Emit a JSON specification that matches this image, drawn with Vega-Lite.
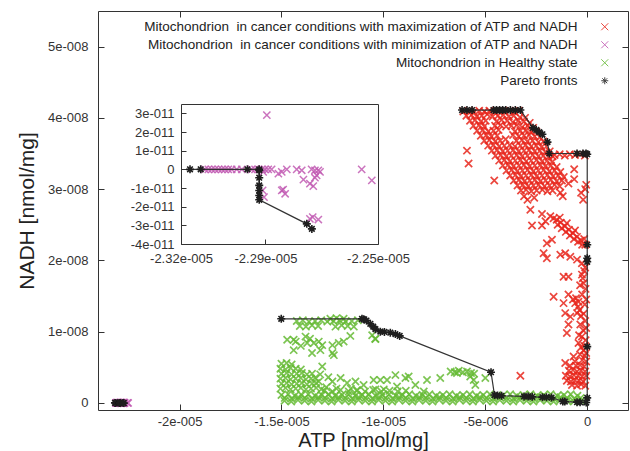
{
  "$schema": "https://vega.github.io/schema/vega-lite/v6.json",
  "width": 530,
  "height": 399,
  "autosize": {"type": "none"},
  "padding": {"left": 98, "top": 11, "right": 2, "bottom": 41},
  "config": {
    "view": {"stroke": "#333", "strokeWidth": 1},
    "font": "Liberation Sans",
    "axis": {
      "grid": false,
      "labelFont": "Liberation Sans",
      "labelFontSize": 13,
      "labelColor": "#333",
      "domainColor": "#333",
      "tickColor": "#333",
      "labelFlush": false,
      "labelOverlap": false,
      "titleFont": "Liberation Sans",
      "titleFontWeight": "normal",
      "titleColor": "#222"
    },
    "legend": {
      "labelFont": "Liberation Sans",
      "labelFontSize": 13.5,
      "labelColor": "#222",
      "labelLimit": 600,
      "symbolSize": 49,
      "symbolStrokeWidth": 1,
      "rowPadding": 3,
      "padding": 0
    }
  },
  "data": {
    "values": "a,n,s,f\n-6.08e-6,4.09e-8,r,\n-5.8e-6,4.1e-8,r,\n-5.55e-6,4.08e-8,r,\n-5.3e-6,4.1e-8,r,\n-5.05e-6,4.09e-8,r,\n-4.8e-6,4.1e-8,r,\n-4.55e-6,4.08e-8,r,\n-4.3e-6,4.1e-8,r,\n-4.05e-6,4.09e-8,r,\n-3.8e-6,4.1e-8,r,\n-3.55e-6,4.08e-8,r,\n-3.35e-6,4.1e-8,r,\n-5.93e-6,4.03e-8,r,\n-5.68e-6,4.04e-8,r,\n-5.42e-6,4.02e-8,r,\n-5.17e-6,4.03e-8,r,\n-4.9e-6,4.05e-8,r,\n-4.64e-6,4.02e-8,r,\n-4.38e-6,4.03e-8,r,\n-4.12e-6,4.04e-8,r,\n-3.85e-6,4.02e-8,r,\n-3.6e-6,4.03e-8,r,\n-3.3e-6,4.01e-8,r,\n-3.05e-6,4e-8,r,\n-5.75e-6,3.96e-8,r,\n-5.5e-6,3.97e-8,r,\n-5.22e-6,3.95e-8,r,\n-4.98e-6,3.96e-8,r,\n-4.45e-6,3.95e-8,r,\n-4.2e-6,3.97e-8,r,\n-3.92e-6,3.96e-8,r,\n-3.65e-6,3.94e-8,r,\n-3.38e-6,3.96e-8,r,\n-3.1e-6,3.95e-8,r,\n-2.82e-6,3.93e-8,r,\n-5.58e-6,3.89e-8,r,\n-5.3e-6,3.9e-8,r,\n-5.05e-6,3.88e-8,r,\n-4.52e-6,3.89e-8,r,\n-4.25e-6,3.9e-8,r,\n-3.98e-6,3.88e-8,r,\n-3.72e-6,3.89e-8,r,\n-3.45e-6,3.9e-8,r,\n-3.2e-6,3.87e-8,r,\n-2.92e-6,3.89e-8,r,\n-2.65e-6,3.86e-8,r,\n-5.4e-6,3.82e-8,r,\n-5.12e-6,3.83e-8,r,\n-4.86e-6,3.81e-8,r,\n-4.6e-6,3.82e-8,r,\n-4.35e-6,3.83e-8,r,\n-3.55e-6,3.81e-8,r,\n-3.28e-6,3.82e-8,r,\n-3e-6,3.83e-8,r,\n-2.75e-6,3.8e-8,r,\n-2.5e-6,3.81e-8,r,\n-5.22e-6,3.75e-8,r,\n-4.95e-6,3.76e-8,r,\n-4.7e-6,3.74e-8,r,\n-4.42e-6,3.75e-8,r,\n-3.64e-6,3.76e-8,r,\n-3.36e-6,3.74e-8,r,\n-3.1e-6,3.75e-8,r,\n-2.85e-6,3.76e-8,r,\n-2.58e-6,3.74e-8,r,\n-2.33e-6,3.73e-8,r,\n-5.05e-6,3.68e-8,r,\n-4.8e-6,3.69e-8,r,\n-4.52e-6,3.67e-8,r,\n-4.27e-6,3.68e-8,r,\n-4e-6,3.7e-8,r,\n-3.47e-6,3.68e-8,r,\n-3.2e-6,3.69e-8,r,\n-2.94e-6,3.67e-8,r,\n-2.68e-6,3.68e-8,r,\n-2.4e-6,3.66e-8,r,\n-2.15e-6,3.67e-8,r,\n-4.86e-6,3.61e-8,r,\n-4.6e-6,3.62e-8,r,\n-4.33e-6,3.6e-8,r,\n-4.07e-6,3.61e-8,r,\n-3.8e-6,3.62e-8,r,\n-3.55e-6,3.6e-8,r,\n-3.28e-6,3.61e-8,r,\n-3.02e-6,3.62e-8,r,\n-2.75e-6,3.6e-8,r,\n-2.5e-6,3.61e-8,r,\n-2.24e-6,3.59e-8,r,\n-2e-6,3.6e-8,r,\n-4.68e-6,3.54e-8,r,\n-4.42e-6,3.55e-8,r,\n-4.15e-6,3.53e-8,r,\n-3.9e-6,3.54e-8,r,\n-3.63e-6,3.55e-8,r,\n-3.37e-6,3.53e-8,r,\n-3.1e-6,3.54e-8,r,\n-2.85e-6,3.55e-8,r,\n-2.58e-6,3.53e-8,r,\n-2.32e-6,3.54e-8,r,\n-2.06e-6,3.52e-8,r,\n-1.84e-6,3.53e-8,r,\n-4.5e-6,3.47e-8,r,\n-4.24e-6,3.48e-8,r,\n-3.98e-6,3.46e-8,r,\n-3.72e-6,3.47e-8,r,\n-3.45e-6,3.48e-8,r,\n-3.2e-6,3.46e-8,r,\n-2.93e-6,3.47e-8,r,\n-2.67e-6,3.48e-8,r,\n-2.4e-6,3.46e-8,r,\n-2.15e-6,3.47e-8,r,\n-1.9e-6,3.45e-8,r,\n-1.7e-6,3.46e-8,r,\n-4.32e-6,3.4e-8,r,\n-4.06e-6,3.41e-8,r,\n-3.8e-6,3.39e-8,r,\n-3.53e-6,3.4e-8,r,\n-3.27e-6,3.41e-8,r,\n-3e-6,3.39e-8,r,\n-2.75e-6,3.4e-8,r,\n-2.48e-6,3.41e-8,r,\n-2.22e-6,3.39e-8,r,\n-1.96e-6,3.4e-8,r,\n-1.72e-6,3.38e-8,r,\n-4.14e-6,3.33e-8,r,\n-3.88e-6,3.34e-8,r,\n-3.62e-6,3.32e-8,r,\n-3.35e-6,3.33e-8,r,\n-3.1e-6,3.34e-8,r,\n-2.83e-6,3.32e-8,r,\n-2.57e-6,3.33e-8,r,\n-2.3e-6,3.34e-8,r,\n-2.05e-6,3.32e-8,r,\n-1.78e-6,3.33e-8,r,\n-1.5e-6,3.31e-8,r,\n-3.96e-6,3.26e-8,r,\n-3.7e-6,3.27e-8,r,\n-3.44e-6,3.25e-8,r,\n-3.18e-6,3.26e-8,r,\n-2.92e-6,3.27e-8,r,\n-2.65e-6,3.25e-8,r,\n-2.4e-6,3.26e-8,r,\n-2.13e-6,3.27e-8,r,\n-1.86e-6,3.25e-8,r,\n-1.6e-6,3.26e-8,r,\n-1.32e-6,3.24e-8,r,\n-3.78e-6,3.19e-8,r,\n-3.52e-6,3.2e-8,r,\n-3.26e-6,3.18e-8,r,\n-3e-6,3.19e-8,r,\n-2.74e-6,3.2e-8,r,\n-2.48e-6,3.18e-8,r,\n-2.22e-6,3.19e-8,r,\n-1.95e-6,3.2e-8,r,\n-1.68e-6,3.18e-8,r,\n-1.42e-6,3.19e-8,r,\n-1.15e-6,3.17e-8,r,\n-3.6e-6,3.12e-8,r,\n-3.34e-6,3.13e-8,r,\n-3.08e-6,3.11e-8,r,\n-2.82e-6,3.12e-8,r,\n-2.56e-6,3.13e-8,r,\n-2.3e-6,3.11e-8,r,\n-2.04e-6,3.12e-8,r,\n-1.78e-6,3.13e-8,r,\n-1.5e-6,3.11e-8,r,\n-1.24e-6,3.12e-8,r,\n-3.42e-6,3.05e-8,r,\n-3.16e-6,3.06e-8,r,\n-2.9e-6,3.04e-8,r,\n-2.64e-6,3.05e-8,r,\n-2.38e-6,3.06e-8,r,\n-2.1e-6,3.04e-8,r,\n-1.85e-6,3.05e-8,r,\n-1.6e-6,3.06e-8,r,\n-1.35e-6,3.04e-8,r,\n-3.25e-6,2.98e-8,r,\n-3e-6,2.99e-8,r,\n-2.74e-6,2.97e-8,r,\n-2.48e-6,2.98e-8,r,\n-2.2e-6,2.99e-8,r,\n-1.95e-6,2.97e-8,r,\n-1.7e-6,2.98e-8,r,\n-1.6e-6,3.48e-8,r,\n-1.35e-6,3.49e-8,r,\n-1.1e-6,3.47e-8,r,\n-8.5e-7,3.49e-8,r,\n-6e-7,3.48e-8,r,\n-3.5e-7,3.49e-8,r,\n-1.2e-7,3.47e-8,r,\n-5.9e-6,3.54e-8,r,\n-5.82e-6,3.36e-8,r,\n-4.56e-6,3.12e-8,r,\n-6.4e-7,3.28e-8,r,\n-6.4e-7,3.14e-8,r,\n-5e-8,3.06e-8,r,\n-9.2e-7,3.08e-8,r,\n-1.32e-6,2.95e-8,r,\n-2.93e-6,2.85e-8,r,\n-2.79e-6,2.71e-8,r,\n-2.71e-6,2.49e-8,r,\n-2.22e-6,2.65e-8,r,\n-1.81e-6,2.62e-8,r,\n-2.22e-6,2.49e-8,r,\n-2.05e-6,2.55e-8,r,\n-1.98e-6,2.24e-8,r,\n-1.73e-6,2.29e-8,r,\n-2.14e-6,2.1e-8,r,\n-1.32e-6,2.08e-8,r,\n-1.08e-6,2.1e-8,r,\n-3.1e-6,2.9e-8,r,\n-2.6e-6,2.88e-8,r,\n-1.2e-6,2.9e-8,r,\n-1e-7,3e-8,r,\n-3e-7,2.95e-8,r,\n-2e-7,2.85e-8,r,\n-1.65e-6,2.59e-8,r,\n-1.5e-6,2.57e-8,r,\n-1.45e-6,2.5e-8,r,\n-1.3e-6,2.53e-8,r,\n-1.25e-6,2.45e-8,r,\n-1.1e-6,2.48e-8,r,\n-1.05e-6,2.4e-8,r,\n-9e-7,2.43e-8,r,\n-8.5e-7,2.35e-8,r,\n-7e-7,2.38e-8,r,\n-6.5e-7,2.3e-8,r,\n-5e-7,2.33e-8,r,\n-4.5e-7,2.26e-8,r,\n-3e-7,2.28e-8,r,\n-2.5e-7,2.22e-8,r,\n-1e-7,2.22e-8,r,\n-1.5e-7,2.3e-8,r,\n-1.35e-6,2.6e-8,r,\n-1e-6,2.52e-8,r,\n-6e-7,2.42e-8,r,\n-1.98e-6,2.03e-8,r,\n-8.3e-7,2.05e-8,r,\n-5e-7,2.01e-8,r,\n-2.6e-7,1.96e-8,r,\n-1.16e-6,1.77e-8,r,\n-9.2e-7,1.77e-8,r,\n-2.6e-7,1.8e-8,r,\n-1.8e-7,1.68e-8,r,\n-1.65e-6,1.49e-8,r,\n-9.2e-7,1.52e-8,r,\n-1.16e-6,1.4e-8,r,\n-5.9e-7,1.4e-8,r,\n-4.3e-7,1.42e-8,r,\n-1.08e-6,1.26e-8,r,\n-8.3e-7,1.21e-8,r,\n-5e-7,1.26e-8,r,\n-9.2e-7,1.1e-8,r,\n-1e-6,9.8e-9,r,\n-3.4e-7,1.1e-8,r,\n-2.6e-7,9.3e-9,r,\n-4.3e-7,8.4e-9,r,\n-1.8e-7,7.4e-9,r,\n-6.7e-7,6.5e-9,r,\n-1.08e-6,5.6e-9,r,\n-3.28e-6,3.8e-9,r,\n-7e-7,1.45e-8,r,\n-5.5e-7,1.47e-8,r,\n-4.5e-7,1.35e-8,r,\n-1e-7,1.9e-8,r,\n-2.2e-7,1.75e-8,r,\n-8e-8,1.6e-8,r,\n-2.5e-7,1.52e-8,r,\n-1.2e-7,1.38e-8,r,\n-3e-7,1.22e-8,r,\n-1e-7,1.15e-8,r,\n-2e-7,1.02e-8,r,\n-8e-8,8.8e-9,r,\n-3e-7,7.8e-9,r,\n-1.2e-7,6.6e-9,r,\n-1.5e-7,1.85e-8,r,\n-3.5e-7,1.65e-8,r,\n-5e-8,1.45e-8,r,\n-3.8e-7,1.3e-8,r,\n-1.8e-7,1.25e-8,r,\n-5e-8,1.05e-8,r,\n-4e-7,9.5e-9,r,\n-1.5e-7,8e-9,r,\n-3.5e-7,6.8e-9,r,\n-5e-8,7e-9,r,\n-6e-7,5.8e-9,r,\n-8.5e-7,5.2e-9,r,\n-2.5e-7,6e-9,r,\n-5e-8,5.8e-9,r,\n-5.5e-7,5.2e-9,r,\n-3.5e-7,5.3e-9,r,\n-1.5e-7,5.1e-9,r,\n-9e-7,4.5e-9,r,\n-7e-7,4.6e-9,r,\n-5e-7,4.4e-9,r,\n-3e-7,4.5e-9,r,\n-1e-7,4.4e-9,r,\n-1.05e-6,3.8e-9,r,\n-8.5e-7,3.7e-9,r,\n-6.5e-7,3.9e-9,r,\n-4.5e-7,3.8e-9,r,\n-2.5e-7,3.7e-9,r,\n-5e-8,3.8e-9,r,\n-1e-6,3.1e-9,r,\n-8e-7,3e-9,r,\n-6e-7,3.2e-9,r,\n-4e-7,3.1e-9,r,\n-2e-7,3e-9,r,\n-7.5e-7,2.5e-9,r,\n-5e-7,2.4e-9,r,\n-3e-7,2.6e-9,r,\n-1e-7,2.4e-9,r,\n-1.425e-5,1.15e-8,g,\n-1.395e-5,1.16e-8,g,\n-1.365e-5,1.14e-8,g,\n-1.335e-5,1.15e-8,g,\n-1.305e-5,1.16e-8,g,\n-1.275e-5,1.14e-8,g,\n-1.245e-5,1.15e-8,g,\n-1.215e-5,1.16e-8,g,\n-1.185e-5,1.14e-8,g,\n-1.155e-5,1.15e-8,g,\n-1.125e-5,1.16e-8,g,\n-1.41e-5,1.08e-8,g,\n-1.38e-5,1.07e-8,g,\n-1.35e-5,1.09e-8,g,\n-1.32e-5,1.08e-8,g,\n-1.235e-5,1.07e-8,g,\n-1.205e-5,1.09e-8,g,\n-1.175e-5,1.08e-8,g,\n-1.145e-5,1.07e-8,g,\n-1.26e-5,1.18e-8,g,\n-1.23e-5,1.19e-8,g,\n-1.195e-5,1.18e-8,g,\n-1.055e-5,9.5e-9,g,\n-1.04e-5,9e-9,g,\n-1.472e-5,8.85e-9,g,\n-1.44e-5,8.85e-9,g,\n-1.43e-5,8.6e-9,g,\n-1.44e-5,7.4e-9,g,\n-1.382e-5,9.3e-9,g,\n-1.374e-5,8.4e-9,g,\n-1.341e-5,8.4e-9,g,\n-1.35e-5,7e-9,g,\n-1.317e-5,8.6e-9,g,\n-1.3e-5,8.1e-9,g,\n-1.309e-5,7.4e-9,g,\n-1.25e-5,7e-9,g,\n-1.243e-5,6.7e-9,g,\n-1.25e-5,8.1e-9,g,\n-1.219e-5,8.4e-9,g,\n-1.195e-5,8.6e-9,g,\n-1.162e-5,9.4e-9,g,\n-1.039e-5,8.95e-9,g,\n-1.405e-5,8e-9,g,\n-1.36e-5,9e-9,g,\n-1.5e-5,5.5e-9,g,\n-1.475e-5,5.6e-9,g,\n-1.45e-5,5.4e-9,g,\n-1.505e-5,4.8e-9,g,\n-1.48e-5,4.7e-9,g,\n-1.455e-5,4.9e-9,g,\n-1.43e-5,4.8e-9,g,\n-1.405e-5,4.7e-9,g,\n-1.5e-5,4.1e-9,g,\n-1.475e-5,4.2e-9,g,\n-1.45e-5,4e-9,g,\n-1.425e-5,4.1e-9,g,\n-1.4e-5,4.2e-9,g,\n-1.375e-5,4e-9,g,\n-1.35e-5,4.1e-9,g,\n-1.505e-5,3.4e-9,g,\n-1.48e-5,3.5e-9,g,\n-1.455e-5,3.3e-9,g,\n-1.43e-5,3.4e-9,g,\n-1.405e-5,3.5e-9,g,\n-1.38e-5,3.3e-9,g,\n-1.355e-5,3.4e-9,g,\n-1.335e-5,3.5e-9,g,\n-1.5e-5,2.7e-9,g,\n-1.475e-5,2.8e-9,g,\n-1.45e-5,2.6e-9,g,\n-1.425e-5,2.7e-9,g,\n-1.4e-5,2.8e-9,g,\n-1.375e-5,2.6e-9,g,\n-1.35e-5,2.7e-9,g,\n-1.33e-5,2.8e-9,g,\n-1.505e-5,2e-9,g,\n-1.48e-5,2.1e-9,g,\n-1.455e-5,1.9e-9,g,\n-1.43e-5,2e-9,g,\n-1.405e-5,2.1e-9,g,\n-1.38e-5,1.9e-9,g,\n-1.355e-5,2e-9,g,\n-1.33e-5,2.1e-9,g,\n-1.305e-5,1.9e-9,g,\n-1.29e-5,1.7e-9,g,\n-1.25e-5,1.6e-9,g,\n-1.21e-5,1.8e-9,g,\n-1.17e-5,1.6e-9,g,\n-1.13e-5,1.7e-9,g,\n-1.09e-5,1.6e-9,g,\n-1.05e-5,1.8e-9,g,\n-1.01e-5,1.6e-9,g,\n-9.7e-6,1.7e-9,g,\n-9.3e-6,1.6e-9,g,\n-8.9e-6,1.7e-9,g,\n-1.5e-5,1.1e-9,g,\n-1.467e-5,1.2e-9,g,\n-1.434e-5,1e-9,g,\n-1.401e-5,1.1e-9,g,\n-1.368e-5,1.2e-9,g,\n-1.335e-5,1e-9,g,\n-1.302e-5,1.1e-9,g,\n-1.269e-5,1.2e-9,g,\n-1.236e-5,1e-9,g,\n-1.203e-5,1.1e-9,g,\n-1.17e-5,1.2e-9,g,\n-1.137e-5,1e-9,g,\n-1.104e-5,1.1e-9,g,\n-1.071e-5,1.2e-9,g,\n-1.038e-5,1e-9,g,\n-1.005e-5,1.1e-9,g,\n-9.72e-6,1.2e-9,g,\n-9.39e-6,1e-9,g,\n-9.06e-6,1.1e-9,g,\n-8.73e-6,1.2e-9,g,\n-8.4e-6,1e-9,g,\n-8.07e-6,1.1e-9,g,\n-7.74e-6,1.2e-9,g,\n-7.41e-6,1e-9,g,\n-7.08e-6,1.1e-9,g,\n-6.75e-6,1.2e-9,g,\n-6.42e-6,1e-9,g,\n-6.09e-6,1.1e-9,g,\n-5.76e-6,1.2e-9,g,\n-5.43e-6,1e-9,g,\n-5.1e-6,1.1e-9,g,\n-4.77e-6,1.2e-9,g,\n-4.44e-6,1e-9,g,\n-4.11e-6,1.1e-9,g,\n-3.78e-6,1.2e-9,g,\n-3.45e-6,1e-9,g,\n-3.12e-6,1.1e-9,g,\n-2.79e-6,1.2e-9,g,\n-2.46e-6,1e-9,g,\n-2.13e-6,1.1e-9,g,\n-1.8e-6,1.2e-9,g,\n-1.47e-6,1e-9,g,\n-1.14e-6,1.1e-9,g,\n-8.1e-7,1.2e-9,g,\n-4.8e-7,1e-9,g,\n-1.484e-5,7e-10,g,\n-1.451e-5,6e-10,g,\n-1.418e-5,8e-10,g,\n-1.385e-5,7e-10,g,\n-1.352e-5,6e-10,g,\n-1.319e-5,8e-10,g,\n-1.286e-5,7e-10,g,\n-1.253e-5,6e-10,g,\n-1.22e-5,8e-10,g,\n-1.187e-5,7e-10,g,\n-1.154e-5,6e-10,g,\n-1.121e-5,8e-10,g,\n-1.088e-5,7e-10,g,\n-1.055e-5,6e-10,g,\n-1.022e-5,8e-10,g,\n-9.89e-6,7e-10,g,\n-9.56e-6,6e-10,g,\n-9.23e-6,8e-10,g,\n-8.9e-6,7e-10,g,\n-8.57e-6,6e-10,g,\n-8.24e-6,8e-10,g,\n-7.91e-6,7e-10,g,\n-7.58e-6,6e-10,g,\n-7.25e-6,8e-10,g,\n-6.92e-6,7e-10,g,\n-6.59e-6,6e-10,g,\n-6.26e-6,8e-10,g,\n-5.93e-6,7e-10,g,\n-5.6e-6,6e-10,g,\n-5.27e-6,8e-10,g,\n-4.94e-6,7e-10,g,\n-4.61e-6,6e-10,g,\n-4.28e-6,8e-10,g,\n-3.95e-6,7e-10,g,\n-3.62e-6,6e-10,g,\n-3.29e-6,8e-10,g,\n-2.96e-6,7e-10,g,\n-2.63e-6,6e-10,g,\n-2.3e-6,8e-10,g,\n-1.97e-6,7e-10,g,\n-1.64e-6,6e-10,g,\n-1.31e-6,8e-10,g,\n-9.8e-7,7e-10,g,\n-6.5e-7,6e-10,g,\n-3.2e-7,7e-10,g,\n-1.485e-5,3e-10,g,\n-1.452e-5,2e-10,g,\n-1.419e-5,4e-10,g,\n-1.386e-5,3e-10,g,\n-1.353e-5,2e-10,g,\n-1.32e-5,4e-10,g,\n-1.287e-5,3e-10,g,\n-1.254e-5,2e-10,g,\n-1.221e-5,4e-10,g,\n-1.188e-5,3e-10,g,\n-1.155e-5,2e-10,g,\n-1.122e-5,4e-10,g,\n-1.089e-5,3e-10,g,\n-1.056e-5,2e-10,g,\n-1.023e-5,4e-10,g,\n-9.9e-6,3e-10,g,\n-9.57e-6,2e-10,g,\n-9.24e-6,4e-10,g,\n-8.91e-6,3e-10,g,\n-8.58e-6,2e-10,g,\n-8.25e-6,4e-10,g,\n-7.92e-6,3e-10,g,\n-7.59e-6,2e-10,g,\n-7.26e-6,4e-10,g,\n-6.93e-6,3e-10,g,\n-6.6e-6,2e-10,g,\n-6.27e-6,4e-10,g,\n-5.94e-6,3e-10,g,\n-5.61e-6,2e-10,g,\n-5.28e-6,4e-10,g,\n-4.95e-6,3e-10,g,\n-4.62e-6,2e-10,g,\n-4.29e-6,4e-10,g,\n-3.96e-6,3e-10,g,\n-3.63e-6,2e-10,g,\n-3.3e-6,4e-10,g,\n-2.97e-6,3e-10,g,\n-2.64e-6,2e-10,g,\n-2.31e-6,4e-10,g,\n-1.98e-6,3e-10,g,\n-1.65e-6,2e-10,g,\n-1.32e-6,4e-10,g,\n-9.9e-7,3e-10,g,\n-6.6e-7,2e-10,g,\n-3e-7,3e-10,g,\n-1.3e-5,5.1e-9,g,\n-1.317e-5,3e-9,g,\n-1.25e-5,3e-9,g,\n-1.21e-5,3.5e-9,g,\n-1.178e-5,2.8e-9,g,\n-1.137e-5,3e-9,g,\n-1.129e-5,1.8e-9,g,\n-1.097e-5,2.5e-9,g,\n-1.048e-5,3.2e-9,g,\n-1.015e-5,3.2e-9,g,\n-9.82e-6,3.2e-9,g,\n-1.039e-5,1.9e-9,g,\n-9.98e-6,1.9e-9,g,\n-9.41e-6,3.9e-9,g,\n-8.92e-6,3.5e-9,g,\n-8.76e-6,3.7e-9,g,\n-9.33e-6,2.3e-9,g,\n-8.43e-6,2.5e-9,g,\n-7.86e-6,3.2e-9,g,\n-7.21e-6,3.5e-9,g,\n-8.02e-6,1.6e-9,g,\n-1.28e-5,2.2e-9,g,\n-1.23e-5,2e-9,g,\n-1.16e-5,2e-9,g,\n-1.31e-5,4e-9,g,\n-1.27e-5,3.6e-9,g,\n-6.7e-6,4.4e-9,g,\n-6.5e-6,4.3e-9,g,\n-6.3e-6,4.5e-9,g,\n-6.1e-6,4.3e-9,g,\n-5.9e-6,4.4e-9,g,\n-5.7e-6,4.2e-9,g,\n-5.55e-6,4.1e-9,g,\n-5.74e-6,3.7e-9,g,\n-5.57e-6,3.2e-9,g,\n-5.49e-6,2.5e-9,g,\n-5e-6,3.5e-9,g,\n-6.39e-6,4.2e-9,g,\n-2.3115e-5,0,m,\n-2.3103e-5,0,m,\n-2.3091e-5,0,m,\n-2.3079e-5,0,m,\n-2.3067e-5,0,m,\n-2.3055e-5,0,m,\n-2.3044e-5,0,m,\n-2.3032e-5,0,m,\n-2.302e-5,0,m,\n-2.3002e-5,0,m,\n-2.2984e-5,0,m,\n-2.2949e-5,0,m,\n-2.2937e-5,0,m,\n-2.2925e-5,0,m,\n-2.2913e-5,0,m,\n-2.2902e-5,0,m,\n-2.289e-5,0,m,\n-2.2878e-5,0,m,\n-2.2895e-5,2.9e-11,m,\n-2.2908e-5,-1.4e-12,m,\n-2.291e-5,-1.13e-11,m,\n-2.2905e-5,-1.49e-11,m,\n-2.2854e-5,-2.3e-12,m,\n-2.2842e-5,-1.4e-12,m,\n-2.2824e-5,0,m,\n-2.2837e-5,-1.09e-11,m,\n-2.283e-5,-1.31e-11,m,\n-2.2842e-5,-1.13e-11,m,\n-2.2789e-5,0,m,\n-2.2771e-5,-5e-13,m,\n-2.2765e-5,-5.5e-12,m,\n-2.2736e-5,0,m,\n-2.2724e-5,-5e-13,m,\n-2.2712e-5,-5e-13,m,\n-2.2718e-5,-3.2e-12,m,\n-2.2724e-5,-4.5e-12,m,\n-2.2742e-5,-7.7e-12,m,\n-2.273e-5,-9e-12,m,\n-2.2706e-5,-1.4e-12,m,\n-2.2732e-5,-2.56e-11,m,\n-2.2712e-5,-2.69e-11,m,\n-2.2742e-5,-2.65e-11,m,\n-2.2558e-5,0,m,\n-2.2522e-5,-5.9e-12,m,\n-6.14e-6,4.11e-8,p,A\n-5.9e-6,4.11e-8,p,A\n-5.65e-6,4.11e-8,p,A\n-4.6e-6,4.11e-8,p,A\n-4.45e-6,4.11e-8,p,A\n-4.3e-6,4.11e-8,p,A\n-4.15e-6,4.11e-8,p,A\n-4e-6,4.11e-8,p,A\n-3.77e-6,4.11e-8,p,A\n-3.53e-6,4.11e-8,p,A\n-3.28e-6,4.11e-8,p,A\n-2.66e-6,3.86e-8,p,A\n-2.5e-6,3.83e-8,p,A\n-2.35e-6,3.8e-8,p,A\n-2.2e-6,3.77e-8,p,A\n-1.95e-6,3.66e-8,p,A\n-1.86e-6,3.5e-8,p,A\n-5e-7,3.5e-8,p,A\n-2.1e-7,3.5e-8,p,A\n-6e-8,3.5e-8,p,A\n0,3.49e-8,p,A\n0,2.22e-8,p,A\n0,2.03e-8,p,A\n0,1.98e-8,p,A\n0,7.9e-9,p,A\n0,7e-10,p,A\n-1.501e-5,1.18e-8,p,B\n-1.105e-5,1.18e-8,p,B\n-1.097e-5,1.175e-8,p,B\n-1.083e-5,1.156e-8,p,B\n-1.064e-5,1.11e-8,p,B\n-1.05e-5,1.07e-8,p,B\n-1.039e-5,1.035e-8,p,B\n-1.015e-5,1e-8,p,B\n-9.95e-6,9.95e-9,p,B\n-9.66e-6,9.85e-9,p,B\n-9.41e-6,9.65e-9,p,B\n-9.2e-6,9.4e-9,p,B\n-4.72e-6,4.3e-9,p,B\n-4.55e-6,1.1e-9,p,B\n-4.4e-6,1.05e-9,p,B\n-4.2e-6,1e-9,p,B\n-3.1e-6,9e-10,p,B\n-2.9e-6,9e-10,p,B\n-2.7e-6,8.5e-10,p,B\n-2.2e-6,8e-10,p,B\n-2e-6,8e-10,p,B\n-1.75e-6,7.5e-10,p,B\n-1.2e-6,2e-10,p,B\n-1.1e-6,1.8e-10,p,B\n-5e-7,1e-10,p,B\n-3.5e-7,8e-11,p,B\n-5e-8,5e-11,p,B\n-2.3168e-5,0,p,C\n-2.313e-5,0,p,C\n-2.2964e-5,0,p,C\n-2.2922e-5,0,p,C\n-2.2922e-5,-5e-13,p,C\n-2.2922e-5,-4.5e-12,p,C\n-2.2922e-5,-8.6e-12,p,C\n-2.2922e-5,-1.13e-11,p,C\n-2.2922e-5,-1.4e-11,p,C\n-2.2922e-5,-1.63e-11,p,C\n-2.2753e-5,-2.92e-11,p,C\n-2.2735e-5,-3.19e-11,p,C",
    "format": {"type": "csv", "parse": {"a": "number", "n": "number"}}
  },
  "resolve": {"scale": {"x": "independent", "y": "independent"}},
  "layer": [
    {
      "encoding": {
        "x": {
          "field": "a", "type": "quantitative",
          "scale": {"domain": [-0.000024, 0.000002], "nice": false, "zero": false},
          "axis": {
            "orient": "bottom", "values": [-0.00002, -0.000015, -0.00001, -0.000005, 0],
            "ticks": false, "domain": false, "labelPadding": 5,
            "labelExpr": "datum.value === 0 ? '0' : replace(replace(format(datum.value, '.1~e'), 'e-', 'e-00'), '\u2212', '-')",
            "title": "ATP [nmol/mg]", "titleFontSize": 20, "titlePadding": 2
          }
        },
        "y": {
          "field": "n", "type": "quantitative",
          "scale": {"domain": [-1e-9, 5.5e-8], "nice": false, "zero": false},
          "axis": {
            "orient": "left", "values": [0, 1e-8, 2e-8, 3e-8, 4e-8, 5e-8],
            "ticks": false, "domain": false, "labelPadding": 10,
            "labelExpr": "datum.value === 0 ? '0' : replace(replace(format(datum.value, '.1~e'), 'e-', 'e-00'), '\u2212', '-')",
            "title": "NADH [nmol/mg]", "titleFontSize": 21, "titlePadding": 10
          }
        }
      },
      "layer": [
        {
          "transform": [{"filter": "datum.s != 'p'"}],
          "mark": {"type": "point", "filled": false, "size": 52, "strokeWidth": 1.7, "opacity": 0.85},
          "encoding": {
            "color": {
              "field": "s", "type": "nominal",
              "scale": {"domain": ["r", "m", "g", "p"], "range": ["#e8261c", "#c25bb3", "#66bb35", "#1e1e1e"]},
              "legend": {
                "orient": "none", "legendX": 500, "legendY": 9, "title": null,
                "labelAlign": "right", "labelOffset": -34,
                "labelExpr": "datum.label == 'r' ? 'Mitochondrion\u00a0 in cancer conditions with maximization of ATP and NADH' : datum.label == 'm' ? 'Mitochondrion\u00a0 in cancer conditions with minimization of ATP and NADH' : datum.label == 'g' ? 'Mitochondrion in Healthy state' : 'Pareto fronts'"
              }
            },
            "shape": {
              "field": "s", "type": "nominal",
              "scale": {"domain": ["r", "m", "g", "p"], "range": ["M-1,-1L1,1M-1,1L1,-1", "M-1,-1L1,1M-1,1L1,-1", "M-1,-1L1,1M-1,1L1,-1", "M-1,0L1,0M0,-1L0,1M-0.7,-0.7L0.7,0.7M-0.7,0.7L0.7,-0.7"]},
              "legend": {
                "orient": "none", "legendX": 500, "legendY": 9, "title": null,
                "labelAlign": "right", "labelOffset": -34,
                "labelExpr": "datum.label == 'r' ? 'Mitochondrion\u00a0 in cancer conditions with maximization of ATP and NADH' : datum.label == 'm' ? 'Mitochondrion\u00a0 in cancer conditions with minimization of ATP and NADH' : datum.label == 'g' ? 'Mitochondrion in Healthy state' : 'Pareto fronts'"
              }
            }
          }
        },
        {
          "transform": [{"filter": "datum.s == 'p'"}],
          "mark": {"type": "line", "color": "#333", "strokeWidth": 1.2},
          "encoding": {
            "detail": {"field": "f", "type": "nominal"},
            "order": [{"field": "n", "type": "quantitative", "sort": "descending"}, {"field": "a", "type": "quantitative", "sort": "ascending"}]
          }
        },
        {
          "transform": [{"filter": "datum.s == 'p'"}],
          "mark": {"type": "point", "filled": false, "size": 64, "strokeWidth": 1.6, "opacity": 1},
          "encoding": {
            "color": {"field": "s", "type": "nominal", "legend": null},
            "shape": {"field": "s", "type": "nominal", "legend": null}
          }
        }
      ]
    },
    {
      "mark": {"type": "point", "opacity": 0},
      "encoding": {
        "x": {"field": "a", "type": "quantitative", "scale": {"domain": [-0.000024, 0.000002], "nice": false, "zero": false},
              "axis": {"orient": "bottom", "offset": -6, "tickSize": 6, "labels": false, "domain": false, "title": null, "values": [-0.00002, -0.000015, -0.00001, -0.000005, 0]}},
        "y": {"field": "n", "type": "quantitative", "scale": {"domain": [-1e-9, 5.5e-8], "nice": false, "zero": false},
              "axis": {"orient": "left", "offset": -6, "tickSize": 6, "labels": false, "domain": false, "title": null, "values": [0, 1e-8, 2e-8, 3e-8, 4e-8, 5e-8]}}
      }
    },
    {
      "mark": {"type": "point", "opacity": 0},
      "encoding": {
        "x": {"field": "a", "type": "quantitative", "scale": {"domain": [-0.000024, 0.000002], "nice": false, "zero": false},
              "axis": {"orient": "top", "offset": -6, "tickSize": 6, "labels": false, "domain": false, "title": null, "values": [-0.00002, -0.000015, -0.00001, -0.000005, 0]}},
        "y": {"field": "n", "type": "quantitative", "scale": {"domain": [-1e-9, 5.5e-8], "nice": false, "zero": false},
              "axis": {"orient": "right", "offset": -6, "tickSize": 6, "labels": false, "domain": false, "title": null, "values": [0, 1e-8, 2e-8, 3e-8, 4e-8, 5e-8]}}
      }
    },
    {
      "transform": [{"filter": "datum.a < -0.000022"}],
      "encoding": {
        "x": {
          "field": "a", "type": "quantitative",
          "scale": {"domain": [-0.0000232, -0.0000225], "range": [83, 280], "nice": false, "zero": false},
          "axis": {
            "orient": "bottom", "offset": -166, "values": [-0.0000232, -0.0000229, -0.0000225],
            "ticks": false, "domain": true, "labelPadding": 8, "title": null,
            "labelExpr": "replace(replace(format(datum.value, '.2e'), 'e-', 'e-00'), '\u2212', '-')"
          }
        },
        "y": {
          "field": "n", "type": "quantitative",
          "scale": {"domain": [-4e-11, 3.5e-11], "range": [233, 93], "nice": false, "zero": false},
          "axis": {
            "orient": "left", "offset": -83, "values": [-4e-11, -3e-11, -2e-11, -1e-11, 0, 1e-11, 2e-11, 3e-11],
            "ticks": false, "domain": true, "labelPadding": 7, "title": null,
            "labelExpr": "datum.value === 0 ? '0' : replace(replace(format(datum.value, '.0e'), 'e-', 'e-0'), '\u2212', '-')"
          }
        }
      },
      "layer": [
        {
          "transform": [{"filter": "datum.s != 'p'"}],
          "mark": {"type": "point", "filled": false, "size": 52, "strokeWidth": 1.5, "opacity": 0.85},
          "encoding": {
            "color": {"field": "s", "type": "nominal", "legend": null},
            "shape": {"field": "s", "type": "nominal", "legend": null}
          }
        },
        {
          "transform": [{"filter": "datum.s == 'p'"}],
          "mark": {"type": "line", "color": "#333", "strokeWidth": 1.2},
          "encoding": {
            "detail": {"field": "f", "type": "nominal"},
            "order": [{"field": "n", "type": "quantitative", "sort": "descending"}, {"field": "a", "type": "quantitative", "sort": "ascending"}]
          }
        },
        {
          "transform": [{"filter": "datum.s == 'p'"}],
          "mark": {"type": "point", "filled": false, "size": 64, "strokeWidth": 1.6, "opacity": 1},
          "encoding": {
            "color": {"field": "s", "type": "nominal", "legend": null},
            "shape": {"field": "s", "type": "nominal", "legend": null}
          }
        }
      ]
    },
    {
      "mark": {"type": "point", "opacity": 0},
      "encoding": {
        "x": {"field": "a", "type": "quantitative", "scale": {"domain": [-0.0000232, -0.0000225], "range": [83, 280], "nice": false, "zero": false},
              "axis": {"orient": "bottom", "offset": -171, "tickSize": 5, "labels": false, "domain": false, "title": null, "values": [-0.0000232, -0.0000229, -0.0000225]}},
        "y": {"field": "n", "type": "quantitative", "scale": {"domain": [-4e-11, 3.5e-11], "range": [233, 93], "nice": false, "zero": false},
              "axis": {"orient": "left", "offset": -88, "tickSize": 5, "labels": false, "domain": false, "title": null, "values": [-4e-11, -3e-11, -2e-11, -1e-11, 0, 1e-11, 2e-11, 3e-11]}}
      }
    },
    {
      "mark": {"type": "point", "opacity": 0},
      "encoding": {
        "x": {"field": "a", "type": "quantitative", "scale": {"domain": [-0.0000232, -0.0000225], "range": [83, 280], "nice": false, "zero": false},
              "axis": {"orient": "top", "offset": -93, "ticks": false, "labels": false, "domain": true, "title": null}},
        "y": {"field": "n", "type": "quantitative", "scale": {"domain": [-4e-11, 3.5e-11], "range": [233, 93], "nice": false, "zero": false},
              "axis": {"orient": "right", "offset": -250, "ticks": false, "labels": false, "domain": true, "title": null}}
      }
    }
  ]
}
